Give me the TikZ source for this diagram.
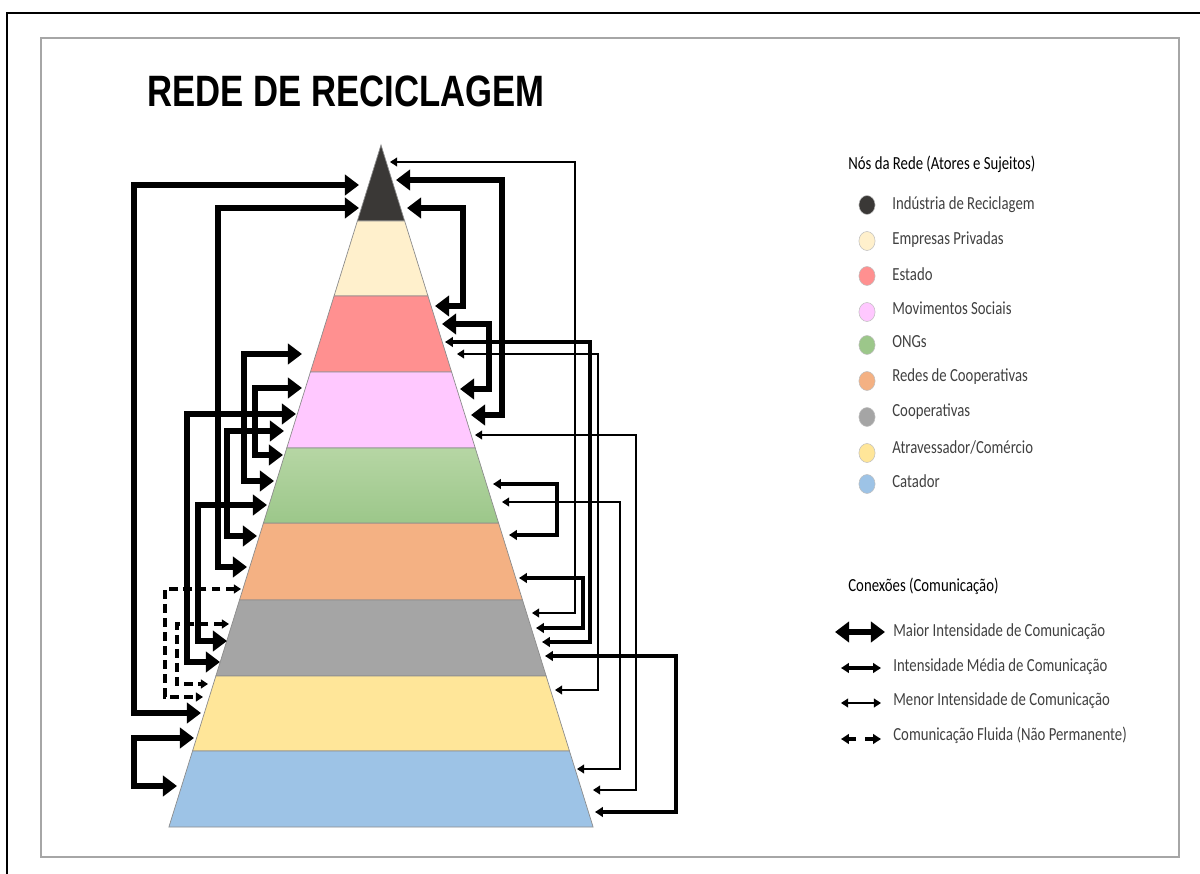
\documentclass[tikz,border=0pt]{standalone}
\usepackage{fontspec}
\setmainfont{Carlito}
\newfontfamily\titlefont{Liberation Sans}
\usetikzlibrary{arrows.meta,positioning,shapes.geometric}
\definecolor{cind}{HTML}{3A3836}
\definecolor{cemp}{HTML}{FFF0CC}
\definecolor{cest}{HTML}{FF9090}
\definecolor{cmov}{HTML}{FFC8FF}
\definecolor{congt}{HTML}{B6D6A4}
\definecolor{congb}{HTML}{9CC78A}
\definecolor{cred}{HTML}{F4B183}
\definecolor{ccoo}{HTML}{A5A5A5}
\definecolor{catr}{HTML}{FFE699}
\definecolor{ccat}{HTML}{9DC3E6}
\newcommand{\stt}[1]{\scalebox{.8}[1]{#1}}
\tikzset{
  big/.style={line width=3.1pt,{Triangle[width=11.5pt,length=8pt]}-{Triangle[width=11.5pt,length=8pt]}},
  med/.style={line width=1.75pt,{Triangle[width=5.5pt,length=4.5pt]}-{Triangle[width=5.5pt,length=4.5pt]}},
  fin/.style={line width=.6pt,{Triangle[width=5pt,length=4pt]}-{Triangle[width=5pt,length=4pt]}},
  flu/.style={line width=1.75pt,dash pattern=on 5pt off 3pt,{Triangle[width=5pt,length=4pt]}-{Triangle[width=5pt,length=4pt]}},
  layer/.style={draw=black!45,line width=.4pt},
  legtext/.style={anchor=west,inner sep=0pt,font=\fontsize{10.5}{12}\selectfont,text=black!75},
  legtitle/.style={anchor=west,inner sep=0pt,font=\fontsize{10.5}{12}\selectfont,text=black},
  dot/.style={ellipse,minimum width=9.2pt,minimum height=10.8pt,inner sep=0pt,draw=black!25,line width=.3pt}
}
\begin{document}
\begin{tikzpicture}[x=.02cm,y=-.02cm]
  \useasboundingbox (0,0) rectangle (1200,874);
  \draw[line width=1pt] (7,874) -- (7,13) -- (1200,13);
  \draw[black!35,line width=1pt] (41,38) rectangle (1179,857);

  \node[anchor=west,inner sep=0pt,font=\fontsize{25}{28}\selectfont\bfseries\titlefont] (titulo) at (147,91) {\scalebox{.79}[1]{REDE DE RECICLAGEM}};

  % piramide
  \foreach \ya/\yb/\c in {145/221/cind, 221/296/cemp, 296/372/cest, 372/448/cmov,
                          523/600/cred, 600/676/ccoo, 676/751/catr, 751/827/ccat}{
    \draw[layer,fill=\c] ({381-(\ya-145)*.311},\ya) -- ({381+(\ya-145)*.311},\ya)
      -- ({381+(\yb-145)*.311},\yb) -- ({381-(\yb-145)*.311},\yb) -- cycle;
  };
  \draw[layer,top color=congt,bottom color=congb] ({381-303*.311},448) -- ({381+303*.311},448)
      -- ({381+378*.311},523) -- ({381-378*.311},523) -- cycle;

  % conexoes: nome/ponta a/ponta b/coluna
  \foreach \n/\ax/\ay/\bx/\by/\cx in {
     e1/201/713/359/185/134, e2/247/567/359/208/218, e3/274/481/302/354/244,
     e4/283/455/302/388/255, e5/220/662/296/414/187, e6/257/536/284/431/227,
     e7/227/641/267/505/198, e8/177/786/194/738/134,
     d1/396/180/471/415/502, d2/407/208/435/306/463, d3/442/324/460/389/489}{
    \coordinate (\n a) at (\ax,\ay);
    \coordinate (\n b) at (\bx,\by);
    \coordinate (\n c) at (\cx,\ay);
    \draw[big] (\n a) -- (\n c) -- (\n c |- \n b) -- (\n b);
  };
  \foreach \n/\ax/\ay/\bx/\by/\cx in {
     m1/445/342/542/642/590, m2/493/484/509/535/557,
     m3/519/578/536/628/583, m4/545/656/595/812/676}{
    \coordinate (\n a) at (\ax,\ay);
    \coordinate (\n b) at (\bx,\by);
    \coordinate (\n c) at (\cx,\ay);
    \draw[med] (\n a) -- (\n c) -- (\n c |- \n b) -- (\n b);
  };
  \foreach \n/\ax/\ay/\bx/\by/\cx in {
     f1/390/162/532/613/575, f2/457/354/555/690/598,
     f3/475/435/593/790/636, f4/502/502/577/769/620}{
    \coordinate (\n a) at (\ax,\ay);
    \coordinate (\n b) at (\bx,\by);
    \coordinate (\n c) at (\cx,\ay);
    \draw[fin] (\n a) -- (\n c) -- (\n c |- \n b) -- (\n b);
  };
  \foreach \n/\ax/\ay/\bx/\by/\cx in {
     h1/241/589/203/697/165, h2/229/624/208/684/177}{
    \coordinate (\n a) at (\ax,\ay);
    \coordinate (\n b) at (\bx,\by);
    \coordinate (\n c) at (\cx,\ay);
    \draw[flu] (\n a) -- (\n c) -- (\n c |- \n b) -- (\n b);
  };

  % legenda
  \node[legtitle] (nos) at (848,164) {\stt{Nós da Rede (Atores e Sujeitos)}};
  \foreach \n/\yt/\yc/\c/\t in {1/205/205/cind/{Indústria de Reciclagem}, 2/240/241/cemp/{Empresas Privadas},
      3/274/276/cest/{Estado}, 4/308/312/cmov/{Movimentos Sociais}, 5/342/345/congb/{ONGs},
      6/377/381/cred/{Redes de Cooperativas}, 7/412/417/ccoo/{Cooperativas},
      8/447/453/catr/{Atravessador/Comércio}, 9/481/484/ccat/{Catador}}{
    \node[dot,fill=\c] (dot\n) at (867,\yc) {};
    \node[legtext] (leg\n) at (892,\yt) {\stt{\t}};
  };

  \node[legtitle] (con) at (848,586) {\stt{Conexões (Comunicação)}};
  \node[legtext] (c1) at (893,632) {\stt{Maior Intensidade de Comunicação}};
  \node[legtext] (c2) at (893,667) {\stt{Intensidade Média de Comunicação}};
  \node[legtext] (c3) at (893,701) {\stt{Menor Intensidade de Comunicação}};
  \node[legtext] (c4) at (893,735) {\stt{Comunicação Fluida (Não Permanente)}};
  \coordinate (c1a) at (835,632);
  \coordinate (c1b) at (885,632);
  \coordinate (c2a) at (841,668);
  \coordinate (c2b) at (881,668);
  \coordinate (c3a) at (841,703);
  \coordinate (c3b) at (881,703);
  \coordinate (c4a) at (841,739);
  \coordinate (c4c) at (856,739);
  \coordinate (c4d) at (865,739);
  \coordinate (c4b) at (881,739);
  \draw[big] (c1a) -- (c1b);
  \draw[med] (c2a) -- (c2b);
  \draw[fin] (c3a) -- (c3b);
  \draw[-{Triangle[width=5.5pt,length=4.5pt]},line width=1.75pt] (c4c) -- (c4a);
  \draw[-{Triangle[width=5.5pt,length=4.5pt]},line width=1.75pt] (c4d) -- (c4b);
\end{tikzpicture}
\end{document}
